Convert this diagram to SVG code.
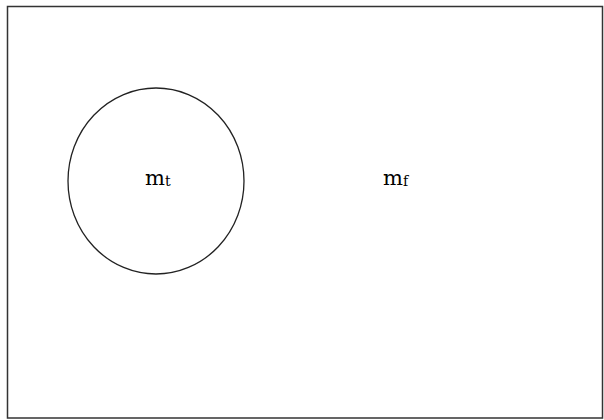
<svg xmlns="http://www.w3.org/2000/svg" width="604" height="420" viewBox="0 0 604 420">
<style>
.lbl{font-family:"DejaVu Serif","Liberation Serif",serif;fill:#000;}
.m{font-size:21px;}
.s{font-size:14px;}
</style>
<rect x="0" y="0" width="604" height="420" fill="#fff"/>
<rect x="7.5" y="6.5" width="595" height="411.5" fill="none" stroke="#333" stroke-width="1.5"/>
<g id="node-mt">
<ellipse cx="156" cy="181" rx="88" ry="93" fill="none" stroke="#222" stroke-width="1.3"/>
<text class="lbl" x="145" y="185"><tspan class="m">m</tspan><tspan class="s" dy="1">t</tspan></text>
</g>
<g id="node-mf">
<text class="lbl" x="383" y="185"><tspan class="m">m</tspan><tspan class="s" dy="1">f</tspan></text>
</g>
<g id="connectors"></g>
</svg>
